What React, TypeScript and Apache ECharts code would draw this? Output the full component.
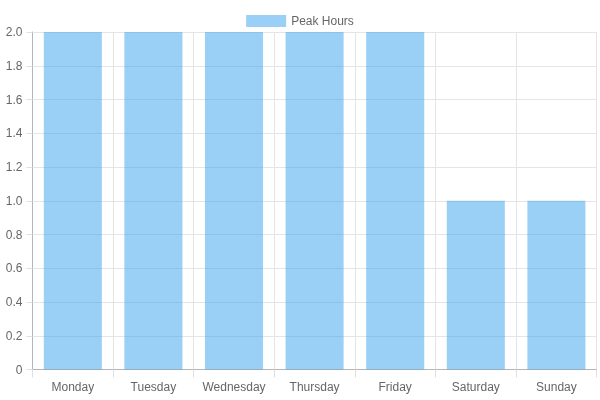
import React, { useEffect, useRef } from "react";
import * as echarts from "echarts";

const categories = ["Monday", "Tuesday", "Wednesday", "Thursday", "Friday", "Saturday", "Sunday"];
const peakHours = [2, 2, 2, 2, 2, 1, 1];
const seriesName = "Peak Hours";

export default function App() {
  const ref = useRef<HTMLDivElement>(null);
  useEffect(() => {
    if (!ref.current) return;
    const chart = echarts.init(ref.current, undefined, { renderer: "svg" });
    const font = "'Liberation Sans', Arial, Helvetica, sans-serif";
    chart.setOption({
      animation: false,
      textStyle: { fontFamily: font },
      legend: {
        top: 10,
        left: "center",
        itemWidth: 40,
        itemHeight: 12,
        itemGap: 10,
        icon: "rect",
        textStyle: { color: "#666", fontSize: 12, fontFamily: font },
        data: [seriesName],
      },
      grid: { left: 32.5, right: 3.3, top: 32, bottom: 30.5, containLabel: false },
      xAxis: {
        type: "category",
        data: categories,
        boundaryGap: true,
        axisLine: { show: true, lineStyle: { color: "#b5b5b5", width: 1 } },
        axisTick: { show: true, interval: 0, length: 8, alignWithLabel: false, lineStyle: { color: "#e0e0e0" } },
        axisLabel: { interval: 0, color: "#666", fontSize: 12, margin: 11, fontFamily: font },
        splitLine: { show: true, interval: 0, lineStyle: { color: "#e5e5e5", width: 1 } },
      },
      yAxis: {
        type: "value",
        min: 0,
        max: 2,
        interval: 0.2,
        axisLine: { show: true, lineStyle: { color: "#b5b5b5", width: 1 } },
        axisTick: { show: true, length: 6, lineStyle: { color: "#e0e0e0" } },
        axisLabel: {
          color: "#666",
          fontSize: 12,
          margin: 10,
          fontFamily: font,
          formatter: (v: number) => (v === 0 ? "0" : v.toFixed(1)),
        },
        splitLine: { show: true, lineStyle: { color: "#e5e5e5", width: 1 } },
      },
      series: [
        {
          name: seriesName,
          type: "bar",
          data: peakHours,
          barWidth: "72%",
          itemStyle: { color: "rgba(54,162,235,0.5)" },
        },
      ],
    });
    return () => chart.dispose();
  }, []);
  return <div ref={ref} style={{ width: 600, height: 400, position: "fixed", left: 0, top: 0 }} />;
}
